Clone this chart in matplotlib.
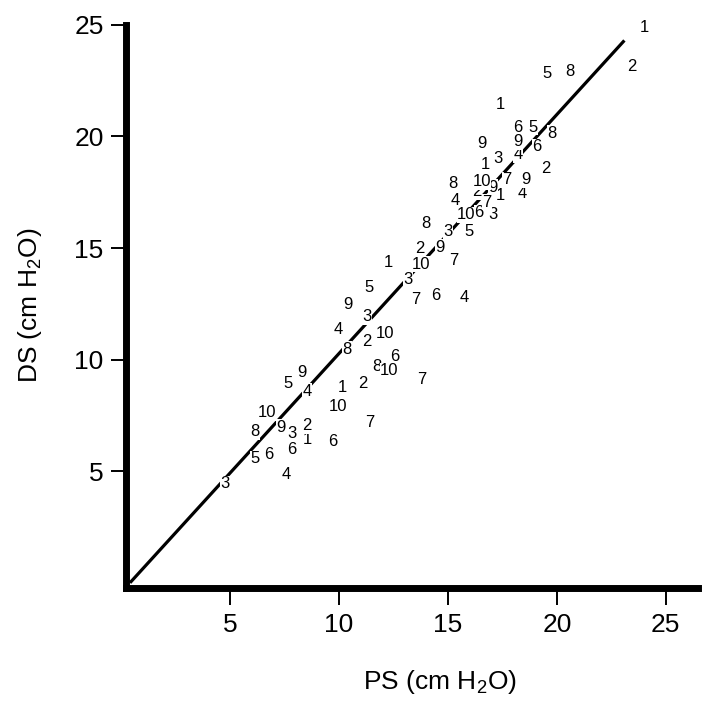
import matplotlib
matplotlib.use("Agg")
import matplotlib.pyplot as plt

plt.rcParams['font.family'] = ['Liberation Sans', 'DejaVu Sans']
plt.rcParams['mathtext.default'] = 'regular'

# subject number -> (PS, DS) pairs
ps = {
    1: [24.04, 17.39, 16.70, 17.39, 12.25, 10.13, 8.53],
    2: [23.45, 19.50, 16.33, 13.71, 11.28, 11.10, 8.53],
    3: [17.30, 17.07, 15.00, 13.16, 11.28, 7.84, 4.76],
    4: [18.21, 18.40, 15.32, 15.73, 9.95, 8.53, 7.56],
    5: [19.55, 18.90, 15.96, 11.37, 7.65, 6.14],
    6: [18.21, 19.09, 16.42, 14.45, 12.57, 9.72, 7.84, 6.78],
    7: [17.71, 16.79, 15.28, 13.53, 13.81, 11.42],
    8: [20.60, 19.78, 15.23, 13.99, 10.36, 11.74, 6.14],
    9: [16.56, 18.21, 17.07, 18.58, 14.63, 10.41, 8.30, 7.33],
    10: [16.56, 15.83, 13.76, 12.11, 12.29, 9.95, 6.69],
}
ds = {
    1: [24.86, 21.45, 18.72, 17.37, 14.33, 8.77, 6.44],
    2: [23.15, 18.54, 17.51, 15.00, 10.79, 8.91, 7.03],
    3: [18.99, 16.52, 15.72, 13.61, 11.91, 6.67, 4.43],
    4: [19.17, 17.46, 17.15, 12.80, 11.33, 8.59, 4.87],
    5: [22.80, 20.42, 15.76, 13.25, 8.95, 5.55],
    6: [20.38, 19.53, 16.57, 12.85, 10.12, 6.31, 5.99, 5.77],
    7: [18.05, 17.06, 14.46, 12.71, 9.09, 7.16],
    8: [22.93, 20.15, 17.91, 16.08, 10.47, 9.67, 6.76],
    9: [19.70, 19.75, 17.73, 18.05, 15.04, 12.45, 9.44, 6.98],
    10: [17.96, 16.48, 14.28, 11.19, 9.49, 7.92, 7.61],
}

# regression line end points
fit_x = [0.4, 23.1]
fit_y = [0.0, 24.3]

ticks = [5, 10, 15, 20, 25]

fig = plt.figure(figsize=(7.09, 7.03), dpi=100)
ax = fig.add_axes([0.1784, 0.1629, 0.8061, 0.8018])

ax.plot(fit_x, fit_y, color='black', lw=2.3, zorder=1, solid_capstyle='butt')

for subj in ps:
    for x, y in zip(ps[subj], ds[subj]):
        ax.text(x, y, str(subj), fontsize=12, ha='center', va='center', zorder=2,
                bbox=dict(facecolor='white', edgecolor='none', pad=0.1))

ax.set_xlim(0.24, 26.48)
ax.set_ylim(-0.255, 25.0)

for side in ['top', 'right']:
    ax.spines[side].set_visible(False)
for side in ['left', 'bottom']:
    ax.spines[side].set_linewidth(5)
    ax.spines[side].set_capstyle('projecting')

ax.set_xticks(ticks)
ax.set_yticks(ticks)
ax.set_xticklabels([str(t) for t in ticks])
ax.set_yticklabels([str(t) for t in ticks])
ax.tick_params(axis='x', direction='out', length=12, width=1.4, pad=6, labelsize=19)
ax.tick_params(axis='y', direction='out', length=10.5, width=1.4, pad=6, labelsize=19)

ax.set_xlabel('PS (cm H$_2$O)', fontsize=19, va='center')
ax.set_ylabel('DS (cm H$_2$O)', fontsize=19, va='center')
ax.xaxis.set_label_coords(0.549, -0.166)
ax.yaxis.set_label_coords(-0.168, 0.503)

fig.savefig('out.png', dpi=100)
